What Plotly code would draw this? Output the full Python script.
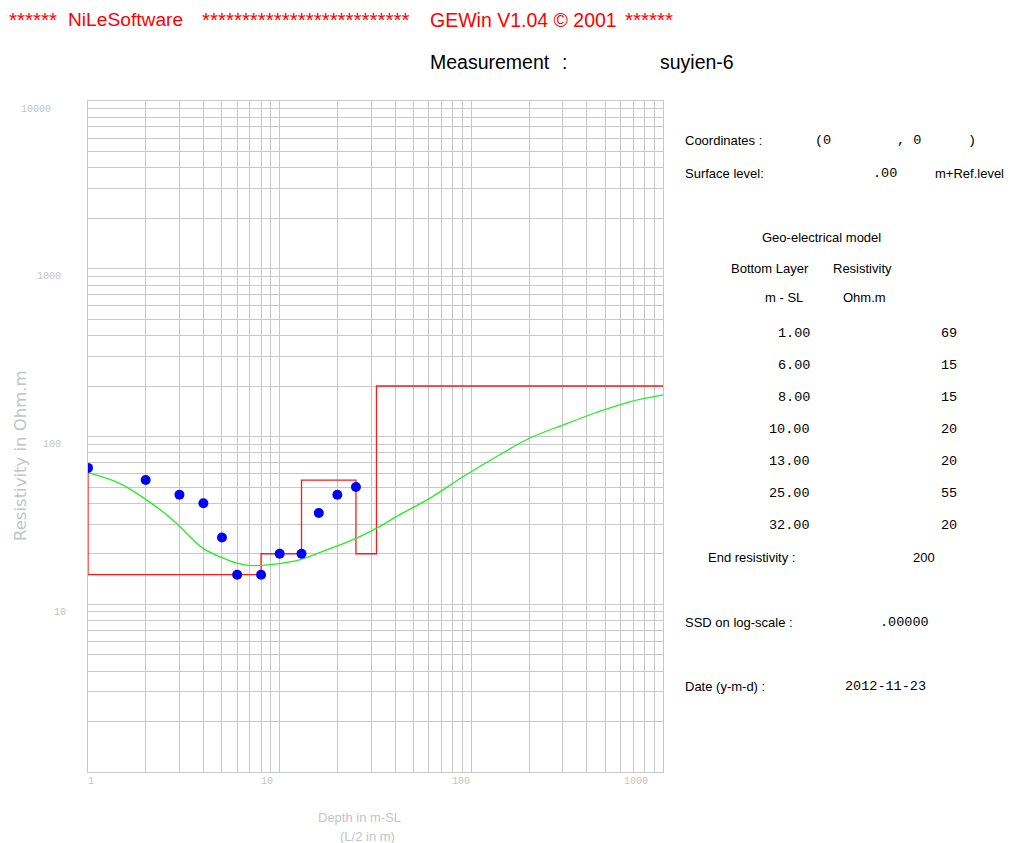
import numpy as np
import plotly.graph_objects as go

# ---------------- data ----------------
meas_depth = [1, 2, 3, 4, 5, 6, 8, 10, 13, 16, 20, 25]
meas_rho = [65, 55, 45, 40, 25, 15, 15, 20, 20, 35, 45, 50]

curve_depth = [1.0, 1.46, 2.02, 2.77, 3.97, 5.04, 5.97, 7.23, 9.19, 12.7, 17.6,
               25.2, 33.2, 40.6, 60.6, 90.4, 135, 201, 300, 449, 670, 1000]
curve_rho = [60.9, 52.6, 41.9, 31.8, 21.6, 18.9, 17.6, 17.0, 17.3, 18.4, 21.1,
             24.8, 29.0, 33.3, 42.8, 57.6, 75.8, 97.6, 117, 139, 161, 177]

layer_bottom = [1.00, 6.00, 8.00, 10.00, 13.00, 25.00, 32.00]
layer_rho = [69, 15, 15, 20, 20, 55, 20]
end_rho = 200

x_tick_vals = [1, 10, 100, 1000]
x_tick_text = ["1", "10", "100", "1000"]
y_tick_vals = [10, 100, 1000, 10000]
y_tick_text = ["10", "100", "1000", "10000"]

measurement = "suyien-6"
coord_x, coord_y = "0", "0"
surface_level = ".00"
ssd = ".00000"
date = "2012-11-23"

X_MAX = 1000
Y_MAX = 10000

# ---------------- styling / layout ----------------
W, H = 1016, 843
L, R, T, B = 88, 663, 101, 772
SANS = "Liberation Sans, Arial, sans-serif"
MONO = "Liberation Mono, Courier New, monospace"
GRID = "#c8c8c8"
LIGHT = "#c4c4c4"


def px(x):
    return (x - L) / (R - L)


def py(y):
    return (B - y) / (B - T)


annotations = []


def txt(x, y, s, size=13, color="#000000", family=SANS, anchor="left", angle=0):
    annotations.append(dict(xref="paper", yref="paper", x=px(x), y=py(y), text=s,
                            showarrow=False, xanchor=anchor, yanchor="middle",
                            textangle=angle, borderpad=0,
                            font=dict(size=size, color=color, family=family)))


fig = go.Figure()

# model step line
step_x = [layer_bottom[0]] + layer_bottom[:-1] + [layer_bottom[-1], X_MAX]
step_y = [layer_rho[0]] + layer_rho[1:] + [end_rho, end_rho]
fig.add_trace(go.Scatter(x=step_x, y=step_y, mode="lines", line_shape="hv",
                         line=dict(color="#ff1a1a", width=1.3), showlegend=False))

# calculated curve
fig.add_trace(go.Scatter(x=curve_depth, y=curve_rho, mode="lines", line_shape="spline",
                         line=dict(color="#22ee22", width=1.3), showlegend=False))

# measured points
fig.add_trace(go.Scatter(x=meas_depth, y=meas_rho, mode="markers",
                         marker=dict(color="#0000ff", size=10, line=dict(width=0)),
                         showlegend=False, cliponaxis=True))

grid_x = [m * 10 ** e for e in range(0, 3) for m in range(1, 10)] + [X_MAX]
grid_y = [m * 10 ** e for e in range(0, 4) for m in range(1, 10)] + [Y_MAX]

fig.update_xaxes(type="log", range=[0, np.log10(X_MAX)], tickmode="array", tickvals=grid_x,
                 showticklabels=False, ticks="", showgrid=True, gridcolor=GRID, gridwidth=1,
                 showline=True, mirror=True, linecolor=GRID, linewidth=1, zeroline=False)
fig.update_yaxes(type="log", range=[0, np.log10(Y_MAX)], tickmode="array", tickvals=grid_y,
                 showticklabels=False, ticks="", showgrid=True, gridcolor=GRID, gridwidth=1,
                 showline=True, mirror=True, linecolor=GRID, linewidth=1, zeroline=False)

# tick labels (GEWin draws them slightly off the grid lines)
x_label_shift = [3, -13, -10, -27]
for v, t, s in zip(x_tick_vals, x_tick_text, x_label_shift):
    annotations.append(dict(xref="x", yref="paper", x=np.log10(v), y=py(781), text=t,
                            showarrow=False, xanchor="center", yanchor="middle", xshift=s,
                            font=dict(size=10, color=LIGHT, family=MONO)))
y_label_right = [68, 63, 63, 53]
for v, t, r in zip(y_tick_vals, y_tick_text, y_label_right):
    annotations.append(dict(xref="paper", yref="y", x=px(r), y=np.log10(v), text=t,
                            showarrow=False, xanchor="right", yanchor="middle", yshift=-8,
                            font=dict(size=10, color=LIGHT, family=MONO)))

# axis titles
txt(21, 456, "Resistivity in Ohm.m", size=16.5, color=LIGHT, family="DejaVu Sans, sans-serif",
    anchor="center", angle=-90)
txt(359, 817, "Depth in m-SL", size=13, color=LIGHT, anchor="center")
txt(367, 836, "(L/2 in m)", size=13, color=LIGHT, anchor="center")

# header
RED = "#ff0000"
txt(8, 20, "******", size=20.5, color=RED)
txt(67, 20, "NiLeSoftware", size=19.2, color=RED)
txt(201, 20, "*" * 26, size=20.5, color=RED)
txt(429, 20, "GEWin V1.04 © 2001", size=19.5, color=RED)
txt(624, 20, "******", size=20.5, color=RED)

txt(429, 62, "Measurement", size=19.5)
txt(561, 62, ":", size=19.5)
txt(659, 62, measurement, size=19.5)

# right panel
txt(684, 140, "Coordinates :")
txt(814, 140, "(" + coord_x, family=MONO, size=13.5)
txt(896, 140, ", " + coord_y, family=MONO, size=13.5)
txt(967, 140, ")", family=MONO, size=13.5)
txt(684, 173, "Surface level:")
txt(872, 173, surface_level, family=MONO, size=13.5)
txt(934, 173, "m+Ref.level")

txt(761, 238, "Geo-electrical model")
txt(730, 268, "Bottom Layer")
txt(832, 268, "Resistivity")
txt(764, 297, "m - SL")
txt(842, 297, "Ohm.m")

for i, (b, r) in enumerate(zip(layer_bottom, layer_rho)):
    yy = 333 + i * 32
    txt(811, yy, f"{b:.2f}", family=MONO, size=13.5, anchor="right")
    txt(958, yy, f"{r}", family=MONO, size=13.5, anchor="right")

txt(707, 557, "End resistivity :")
txt(912, 557, f"{end_rho}")
txt(684, 622, "SSD on log-scale :")
txt(879, 622, ssd, family=MONO, size=13.5)
txt(684, 686, "Date (y-m-d) :")
txt(844, 686, date, family=MONO, size=13.5)

fig.update_layout(width=W, height=H, margin=dict(l=L, r=W - R, t=T, b=H - B, pad=0),
                  paper_bgcolor="white", plot_bgcolor="white", showlegend=False,
                  annotations=annotations, font=dict(family=SANS))

fig.write_html("out.html", config={"displayModeBar": False},
               post_script="document.body.style.margin='0px';")
